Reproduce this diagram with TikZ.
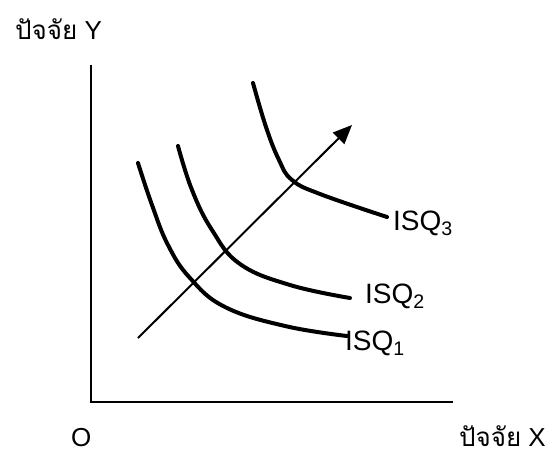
\documentclass[tikz,border=0pt]{standalone}
\usepackage{fontspec}
\setmainfont{Liberation Sans}
\newfontfamily\thaifont[Script=Thai]{Loma}
\usepackage{tikz}
\usetikzlibrary{arrows.meta}
\newcommand{\factor}[1]{{\thaifont ปัจจัย} #1}
\tikzset{
  axis/.style={line width=2pt},
  isq/.style={line width=4pt, line cap=round},
  expand/.style={line width=2pt, -{Triangle[length=19pt,width=16pt]}},
  axlbl/.style={inner sep=0pt, text depth=0pt, font=\fontsize{26}{30}\selectfont},
  isqlbl/.style={inner sep=0pt, anchor=west, font=\fontsize{28}{32}\selectfont}
}
\begin{document}
\begin{tikzpicture}[x=1pt, y=-1pt]
  \useasboundingbox (0,0) rectangle (549,450);
  % axes
  \coordinate (top) at (91,65);
  \coordinate (o) at (91,402);
  \coordinate (right) at (453,402);
  \draw[axis] (top) -- (o) -- (right);
  \node[axlbl, anchor=base west] (ylab) at (15,39) {\factor{Y}};
  \node[axlbl, anchor=base west] (olab) at (71,446) {O};
  \node[axlbl, anchor=base east] (xlab) at (546,446) {\factor{X}};
  % isoquants
  \draw[isq] plot[smooth, tension=0.7] coordinates {(138,163) (152,205) (168,245) (190,278) (225,307) (285,326) (347,336)};
  \draw[isq] plot[smooth, tension=0.7] coordinates {(178,146) (192,190) (212,230) (240,264) (290,285) (350,298)};
  \draw[isq] plot[smooth, tension=0.7] coordinates {(253,83) (266,127) (279,160) (292,180) (320,194) (387,217)};
  \node[isqlbl] (isq1) at (345,343) {ISQ\textsubscript{1}};
  \node[isqlbl] (isq2) at (365,296) {ISQ\textsubscript{2}};
  \node[isqlbl] (isq3) at (393,223) {ISQ\textsubscript{3}};
  % expansion path
  \coordinate (start) at (138,338);
  \coordinate (tip) at (352,125);
  \draw[expand] (start) -- (tip);
\end{tikzpicture}
\end{document}
